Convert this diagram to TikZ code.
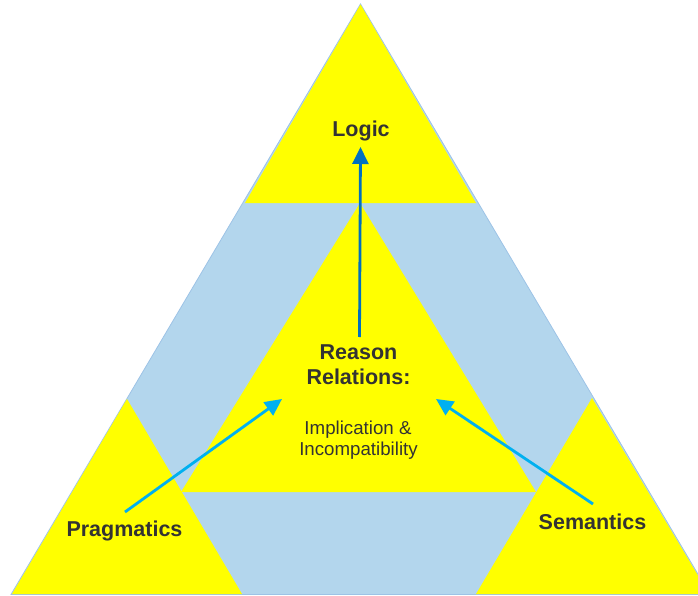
\documentclass[tikz,border=0pt]{standalone}
\usepackage{fontspec}
\setmainfont{Liberation Sans}
\usetikzlibrary{arrows.meta}
\definecolor{tyellow}{HTML}{FFFF00}
\definecolor{tblue}{HTML}{B3D6ED}
\definecolor{tedge}{HTML}{9DC3E6}
\definecolor{ttext}{HTML}{333333}
\definecolor{tcyan}{HTML}{00B0F0}
\definecolor{tdark}{HTML}{0070C0}
\tikzset{
  ytri/.style={fill=tyellow, draw=none},
  bigtri/.style={fill=tblue, draw=tedge, line width=0.8pt},
  boldlbl/.style={text=ttext, font=\fontsize{21.5}{25}\selectfont\bfseries, inner sep=0pt, anchor=base},
  reglbl/.style={text=ttext, font=\fontsize{18.7}{22}\selectfont, inner sep=0pt, anchor=base},
  arr/.style={line width=2.8pt, -{Triangle[width=16pt,length=17pt]}},
}
\begin{document}
\begin{tikzpicture}[x=1pt,y=-1pt]
\useasboundingbox (0,0) rectangle (698,596);
\clip (0,0) rectangle (698,596);
% outer blue triangle
\fill[bigtri] (360.5,4) -- (11,594.5) -- (710,594.5) -- cycle;
% corner triangles
\fill[ytri] (360.5,4.5) -- (245,203) -- (476,203) -- cycle;
\fill[ytri] (127,399) -- (12,594) -- (242,594) -- cycle;
\fill[ytri] (592,398) -- (476,594) -- (709,594) -- cycle;
% central triangle
\fill[ytri] (360,203) -- (181,492) -- (536,492) -- cycle;
% labels
\node[boldlbl] (logic) at (361,137) {Logic};
\node[boldlbl] (reason) at (358.5,359) {Reason};
\node[boldlbl] (relations) at (358.5,384) {Relations:};
\node[reglbl] (impl) at (358,434) {Implication \&};
\node[reglbl] (incomp) at (358.5,455.5) {Incompatibility};
\node[boldlbl] (prag) at (124.5,536.5) {Pragmatics};
\node[boldlbl] (sem) at (592.5,529) {Semantics};
% arrow end points
\coordinate (logicStart) at (359.5,337);
\coordinate (logicEnd) at (360.5,147);
\coordinate (pragStart) at (125,512);
\coordinate (pragEnd) at (282,399);
\coordinate (semStart) at (593,504);
\coordinate (semEnd) at (436,399);
\draw[arr, tdark] (logicStart) -- (logicEnd);
\draw[arr, tcyan] (pragStart) -- (pragEnd);
\draw[arr, tcyan] (semStart) -- (semEnd);
\end{tikzpicture}
\end{document}
